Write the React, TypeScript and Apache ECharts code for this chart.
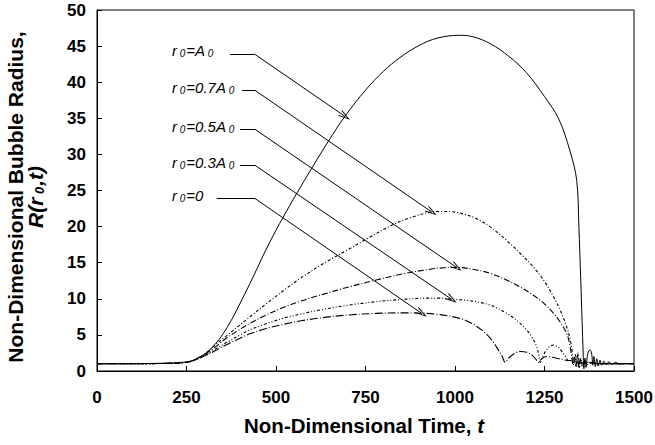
import React, { useEffect, useRef } from "react";
import * as echarts from "echarts";

// ---- axis ticks ----
const xMin = 0, xMax = 1500, xStep = 250;
const yMin = 0, yMax = 50, yStep = 5;

// ---- curve r0 = A0 (solid) ----
const tA0 = [0, 100, 200, 250, 270, 290, 310, 330, 350, 375, 400, 427, 450, 469, 500, 520, 558, 600, 646, 693, 750, 800, 846, 900, 950, 1012, 1050, 1100, 1150, 1200, 1250, 1289, 1321, 1340, 1346, 1351, 1355, 1358, 1360, 1363, 1366, 1370, 1374, 1378, 1382, 1385, 1388, 1392, 1396, 1400, 1405, 1410, 1416, 1422, 1430, 1438, 1448, 1460, 1475, 1490, 1500];
const rA0 = [1, 1.02, 1.1, 1.25, 1.5, 2.0, 2.7, 3.7, 5.0, 7.0, 9.4, 12.1, 14.5, 16.5, 19.5, 21.3, 24.6, 28.1, 31.8, 35.3, 38.9, 41.5, 43.4, 45.1, 46.1, 46.5, 46.3, 45.3, 43.6, 41.3, 38.0, 35.0, 30.5, 26.4, 20, 13, 7, 2.5, 0.3, 1.8, 0.5, 2.2, 2.8, 2.9, 2.3, 0.8, 2.0, 0.6, 1.7, 0.7, 1.5, 0.8, 1.4, 0.9, 1.3, 0.9, 1.2, 0.95, 1.05, 1.0, 1.0];

// ---- curve r0 = 0.7 A0 ----
const t07 = [0, 200, 250, 270, 290, 310, 330, 360, 400, 427, 470, 520, 570, 623, 697, 750, 828, 880, 933, 977, 1020, 1060, 1100, 1144, 1180, 1219, 1250, 1275, 1295, 1312, 1322, 1328, 1332, 1336, 1340, 1344, 1348, 1352, 1356, 1362, 1370, 1385, 1400, 1450, 1500];
const r07 = [1, 1.05, 1.25, 1.5, 2.0, 2.7, 3.6, 4.8, 6.4, 7.5, 9.2, 11.1, 12.9, 14.6, 16.7, 18.2, 20.3, 21.3, 22.0, 22.1, 21.8, 21.1, 19.9, 18.1, 16.4, 14.4, 12.4, 10.3, 8.3, 6.1, 4.3, 2.5, 1.0, 2.3, 0.6, 2.5, 0.5, 1.8, 0.7, 1.4, 0.9, 1.2, 1.0, 1.0, 1.0];

// ---- curve r0 = 0.5 A0 ----
const t05 = [0, 200, 250, 270, 290, 310, 330, 360, 400, 427, 470, 520, 570, 623, 700, 780, 850, 930, 970, 1005, 1060, 1100, 1144, 1180, 1219, 1250, 1275, 1295, 1312, 1320, 1326, 1330, 1334, 1338, 1342, 1346, 1350, 1355, 1362, 1370, 1385, 1400, 1450, 1500];
const r05 = [1, 1.05, 1.2, 1.5, 2.0, 2.6, 3.3, 4.5, 5.8, 6.6, 7.7, 8.8, 9.7, 10.5, 11.6, 12.6, 13.4, 14.1, 14.3, 14.35, 14.0, 13.5, 12.6, 11.7, 10.5, 9.3, 8.0, 6.7, 5.2, 3.8, 2.0, 0.8, 1.9, 0.6, 2.2, 0.5, 1.6, 0.7, 1.4, 0.9, 1.2, 1.0, 1.0, 1.0];

// ---- curve r0 = 0.3 A0 ----
const t03 = [0, 200, 250, 270, 290, 310, 330, 360, 400, 427, 470, 520, 570, 623, 700, 780, 850, 930, 960, 990, 1030, 1060, 1100, 1144, 1175, 1200, 1215, 1228, 1234, 1238, 1245, 1255, 1265, 1275, 1288, 1300, 1310, 1318, 1328, 1340, 1350, 1360, 1375, 1400, 1450, 1500];
const r03 = [1, 1.05, 1.2, 1.45, 1.9, 2.4, 3.0, 3.9, 5.0, 5.7, 6.5, 7.3, 7.9, 8.45, 9.1, 9.6, 9.9, 10.1, 10.1, 9.95, 9.8, 9.6, 9.1, 8.0, 6.9, 5.7, 4.7, 3.4, 2.2, 1.2, 2.0, 2.9, 3.4, 3.6, 3.3, 2.6, 1.9, 1.3, 1.8, 1.5, 1.2, 1.0, 1.2, 1.0, 1.0, 1.0];

// ---- curve r0 = 0 ----
const t00 = [0, 200, 250, 270, 290, 310, 330, 360, 400, 427, 470, 520, 570, 623, 700, 780, 850, 911, 950, 995, 1030, 1060, 1090, 1107, 1120, 1132, 1140, 1150, 1165, 1182, 1200, 1215, 1226, 1233, 1242, 1255, 1270, 1290, 1310, 1330, 1345, 1360, 1375, 1400, 1450, 1500];
const r00 = [1, 1.05, 1.2, 1.45, 1.85, 2.3, 2.8, 3.6, 4.55, 5.15, 5.85, 6.45, 6.95, 7.35, 7.75, 7.98, 8.05, 8.0, 7.85, 7.5, 7.0, 6.2, 5.0, 4.0, 3.0, 2.0, 1.2, 1.8, 2.4, 2.7, 2.6, 2.2, 1.6, 1.2, 1.7, 2.0, 1.9, 1.7, 1.5, 1.4, 1.2, 1.1, 1.2, 1.0, 1.0, 1.0];

// ---- annotation leaders (data coords): start of horizontal, corner, arrow tip ----
const annStart = [[371.5, 43.94], [405, 38.87], [399.4, 33.47], [399.4, 28.49], [334.4, 23.89]];
const annCorner = [[438.6, 43.94], [441.3, 38.87], [441.3, 33.47], [441.3, 28.49], [441.3, 23.89]];
const annTip = [[692.7, 35.27], [935, 22.03], [1004.7, 14.34], [990.8, 9.92], [907, 7.98]];
const annTexts = [
  "{i|r}{s| 0}{i|=A}{s| 0}",
  "{i|r}{s| 0}{i|=0.7A}{s| 0}",
  "{i|r}{s| 0}{i|=0.5A}{s| 0}",
  "{i|r}{s| 0}{i|=0.3A}{s| 0}",
  "{i|r}{s| 0}{i|=0}",
];

const FONT = "'Liberation Sans', Arial, Helvetica, sans-serif";
const ARROW = "path://M5,0 L10,14 L8.6,14 L5,3.5 L1.4,14 L0,14 Z";

function zip(t: number[], r: number[]) {
  return t.map((v, i) => [v, r[i]]);
}

const curves = [
  { name: "A0", t: tA0, r: rA0, type: "solid" as any, w: 1 },
  { name: "0.7A0", t: t07, r: r07, type: [3, 2, 1, 2] as any, w: 1.1 },
  { name: "0.5A0", t: t05, r: r05, type: [6, 2, 1, 2] as any, w: 1.1 },
  { name: "0.3A0", t: t03, r: r03, type: [3, 2, 1, 2, 1, 2] as any, w: 1.1 },
  { name: "0", t: t00, r: r00, type: [8, 2, 1, 2] as any, w: 1.1 },
];

export default function App() {
  const ref = useRef<HTMLDivElement>(null);
  useEffect(() => {
    if (!ref.current) return;
    const chart = echarts.init(ref.current, undefined, { renderer: "svg" });
    const series = curves.map((c, k) => ({
      type: "line",
      name: c.name,
      data: zip(c.t, c.r),
      showSymbol: false,
      smooth: 0.35,
      clip: true,
      silent: true,
      lineStyle: { color: "#000", width: c.w, type: c.type },
      markLine: {
        silent: true,
        animation: false,
        symbol: ["none", "none"],
        label: { show: false },
        emphasis: { disabled: true },
        lineStyle: { color: "#000", width: 1, type: "solid" },
        data: [
          [
            { coord: annStart[k], symbol: "none" },
            { coord: annCorner[k], symbol: "none" },
          ],
          [
            { coord: annCorner[k], symbol: "none" },
            { coord: annTip[k], symbol: ARROW, symbolSize: [7, 12] },
          ],
        ],
      },
    }));

    const labelYs = [53, 90, 129, 165, 198];
    const rich = {
      i: { fontFamily: FONT, fontStyle: "italic", fontSize: 15, fill: "#000" },
      s: { fontFamily: FONT, fontStyle: "italic", fontSize: 10, fill: "#000", verticalAlign: "bottom", padding: [6, 1, 0, 0] },
    };
    const annGraphics = annTexts.map((txt, k) => ({
      type: "text",
      left: 172,
      top: labelYs[k] - 10,
      silent: true,
      style: { text: txt, rich, fill: "#000" },
    }));

    const plain = (v: number) => String(v);

    chart.setOption({
      animation: false,
      grid: {
        left: 97,
        right: 21,
        top: 10,
        bottom: 74,
        show: true,
        borderColor: "#000",
        borderWidth: 1,
        containLabel: false,
        outerBoundsMode: "none",
      },
      xAxis: {
        type: "value",
        min: xMin,
        max: xMax,
        interval: xStep,
        axisLine: { show: true, onZero: false, lineStyle: { color: "#000", width: 1 } },
        axisTick: { show: true, inside: true, length: 5, lineStyle: { color: "#000" } },
        axisLabel: { color: "#000", fontFamily: FONT, fontWeight: "bold", fontSize: 17, margin: 18, formatter: plain },
        splitLine: { show: false },
      },
      yAxis: {
        type: "value",
        min: yMin,
        max: yMax,
        interval: yStep,
        axisLine: { show: true, onZero: false, lineStyle: { color: "#000", width: 1 } },
        axisTick: { show: true, inside: true, length: 5, lineStyle: { color: "#000" } },
        axisLabel: { color: "#000", fontFamily: FONT, fontWeight: "bold", fontSize: 17, margin: 11, formatter: plain },
        splitLine: { show: false },
      },
      series,
      graphic: [
        ...annGraphics,
        {
          type: "text",
          x: 364,
          y: 425,
          silent: true,
          style: {
            text: "{b|Non-Dimensional Time, }{bi|t}",
            align: "center",
            verticalAlign: "middle",
            rich: {
              b: { fontFamily: FONT, fontWeight: "bold", fontSize: 20.5, fill: "#000" },
              bi: { fontFamily: FONT, fontWeight: "bold", fontStyle: "italic", fontSize: 20.5, fill: "#000" },
            },
          },
        },
        {
          type: "text",
          x: 15,
          y: 197,
          rotation: Math.PI / 2,
          silent: true,
          style: {
            text: "Non-Dimensional Bubble Radius,",
            align: "center",
            verticalAlign: "middle",
            fontFamily: FONT,
            fontWeight: "bold",
            fontSize: 21,
            fill: "#000",
          },
        },
        {
          type: "text",
          x: 35,
          y: 197,
          rotation: Math.PI / 2,
          silent: true,
          style: {
            text: "{bi|R(r}{bs| 0}{bi|,t)}",
            align: "center",
            verticalAlign: "middle",
            rich: {
              bi: { fontFamily: FONT, fontWeight: "bold", fontStyle: "italic", fontSize: 21, fill: "#000" },
              bs: { fontFamily: FONT, fontWeight: "bold", fontStyle: "italic", fontSize: 13, fill: "#000", verticalAlign: "bottom", padding: [7, 1, 0, 0] },
            },
          },
        },
      ],
    });
    return () => chart.dispose();
  }, []);
  return (
    <div
      ref={ref}
      style={{ position: "fixed", left: 0, top: 0, width: 655, height: 445, background: "#fff" }}
    />
  );
}
